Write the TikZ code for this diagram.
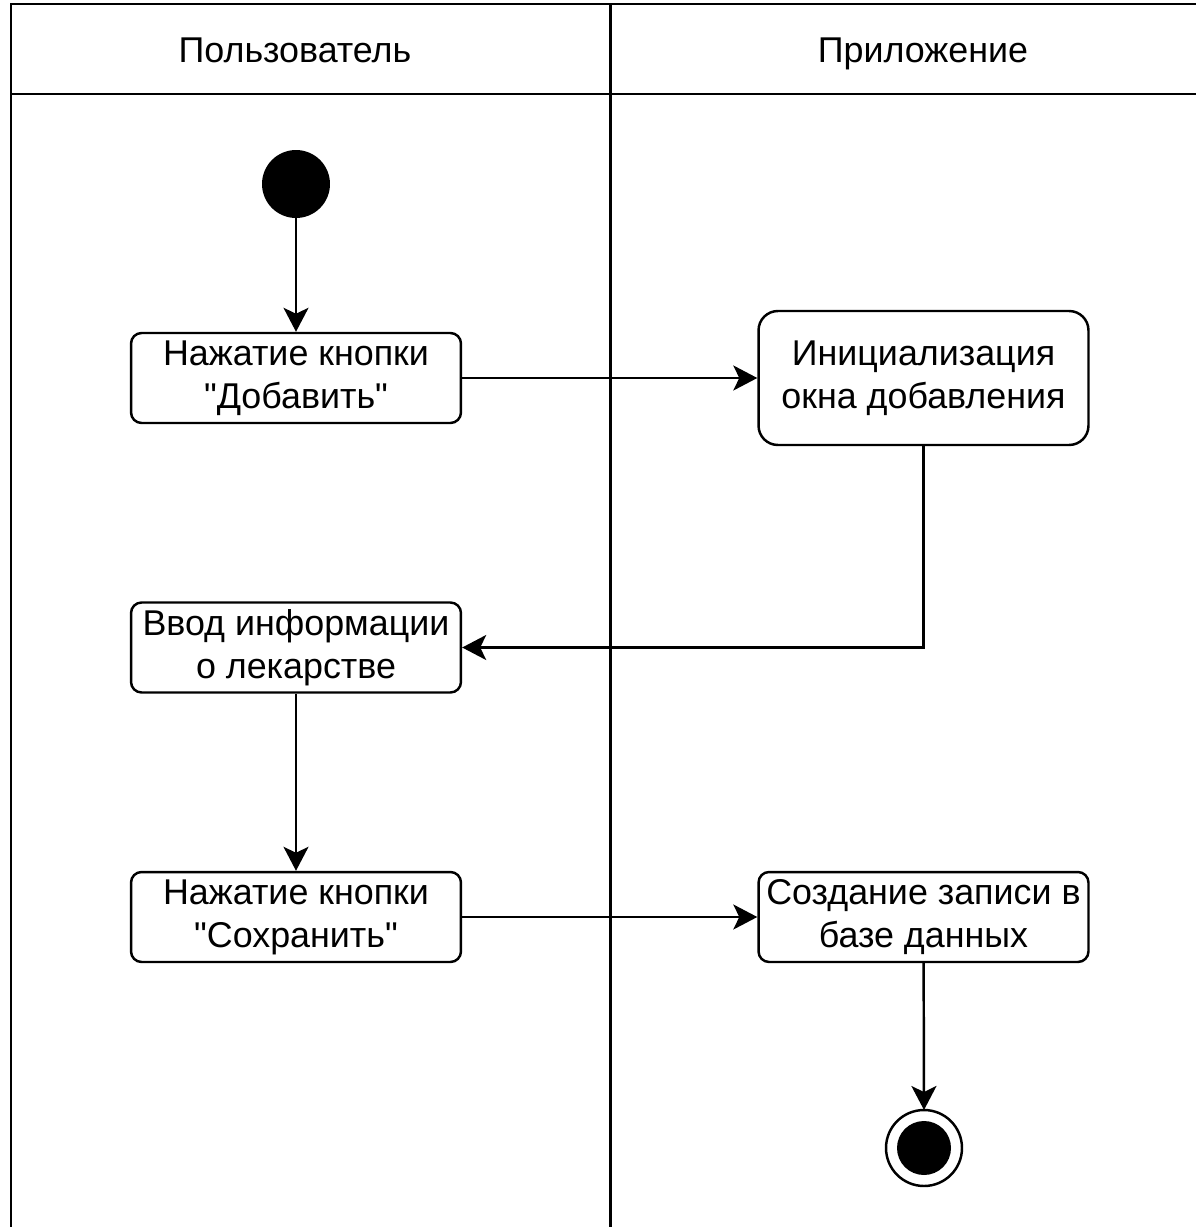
\documentclass[tikz,border=0pt]{standalone}
\usepackage{fontspec}
\setmainfont{Liberation Sans}[Ligatures=TeXOff]
\usetikzlibrary{arrows.meta}
\tikzstyle{lane}=[line width=1.7pt]
\tikzstyle{action}=[draw,line width=1.4pt,rounded corners=6pt,minimum width=6.6cm,minimum height=1.8cm,align=center,inner sep=0pt]
\tikzstyle{myarrow}=[line width=1.4pt,-{Stealth[length=0.48cm,width=0.5cm,inset=0.12cm]}]

\begin{document}
\begin{tikzpicture}[x=0.02cm,y=-0.02cm,font=\fontsize{20.4pt}{24.5pt}\selectfont]
		\useasboundingbox (0,0) rectangle (1196,1227);
		% lanes
		\draw[lane] (11,1227) -- (11,4) -- (1196,4);
		\draw[lane] (11,94) -- (1196,94);
		\draw[lane] (610,4) -- (610,1227);
		\node[anchor=base] (user) at (295,62) {Пользователь};
		\node[anchor=base] (app) at (923,62) {Приложение};

		\fill (296,184) circle (0.68cm);
		\coordinate (start) at (296,218);

		\node[action] (add) at (296,378) {Нажатие кнопки\\"Добавить"};
		\node[action,minimum height=2.68cm,rounded corners=11pt] (init) at (923.5,378) {Инициализация\\окна добавления};
		\node[action] (input) at (296,647.5) {Ввод информации\\о лекарстве};
		\node[action] (save) at (296,917) {Нажатие кнопки\\"Сохранить"};
		\node[action] (record) at (923.5,917) {Создание записи в\\базе данных};

		\draw[line width=1.4pt] (924,1148) circle (0.76cm);
		\fill (924,1148) circle (0.54cm);
		\coordinate (stop) at (924,1110);

		\draw[myarrow] (start) -- (add);
		\draw[myarrow] (add) -- (init);
		\draw[myarrow] (init.south) |- (input.east);
		\draw[myarrow] (input) -- (save);
		\draw[myarrow] (save) -- (record);
		\draw[myarrow] (record) -- (stop);
	\end{tikzpicture}
\end{document}
